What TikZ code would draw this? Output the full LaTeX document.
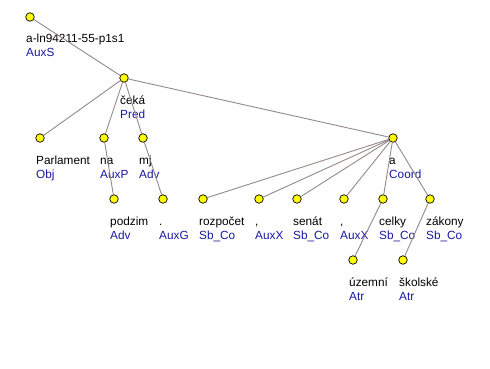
\documentclass[tikz,border=0pt]{standalone}
\usepackage{fontspec}
\setmainfont{Liberation Sans}
\definecolor{edgegray}{RGB}{150,136,136}
\definecolor{funcblue}{RGB}{24,24,160}
\definecolor{nodeyellow}{RGB}{255,255,0}
\begin{document}
\begin{tikzpicture}[x=1pt,y=-1pt]
\tikzset{tnode/.style={circle, draw=black, fill=nodeyellow, inner sep=0pt, minimum size=8.5pt, line width=0.7pt}}
\tikzset{edge/.style={draw=edgegray, line width=0.9pt}}
\tikzset{word/.style={anchor=base west, inner sep=0pt, font=\fontsize{11.8}{13}\selectfont}}
\tikzset{func/.style={word, text=funcblue}}
\useasboundingbox (0,0) rectangle (490,369);

% tree nodes
\node (root) [tnode] at (30,17) {};
\node (ceka) [tnode] at (124,78) {};
\node (parl) [tnode] at (40,138) {};
\node (na) [tnode] at (104,138) {};
\node (mj) [tnode] at (143,138) {};
\node (coord) [tnode] at (393,138) {};
\node (podzim) [tnode] at (114,199) {};
\node (tecka) [tnode] at (163,199) {};
\node (rozp) [tnode] at (203,199) {};
\node (carka1) [tnode] at (259,199) {};
\node (senat) [tnode] at (297,199) {};
\node (carka2) [tnode] at (344,199) {};
\node (celky) [tnode] at (383,199) {};
\node (zakony) [tnode] at (430,199) {};
\node (uzemni) [tnode] at (353,260) {};
\node (skolske) [tnode] at (403,260) {};

% labels
\node (wroot) [word] at (26,43) {a-ln94211-55-p1s1};
\node (froot) [func] at (26,57) {AuxS};
\node (wceka) [word] at (120,104) {čeká};
\node (fceka) [func] at (120,118) {Pred};
\node (wparl) [word] at (36,164) {Parlament};
\node (fparl) [func] at (36,178) {Obj};
\node (wna) [word] at (100,164) {na};
\node (fna) [func] at (100,178) {AuxP};
\node (wmj) [word] at (139,164) {mj};
\node (fmj) [func] at (139,178) {Adv};
\node (wcoord) [word] at (389,164) {a};
\node (fcoord) [func] at (389,178) {Coord};
\node (wpodzim) [word] at (110,225) {podzim};
\node (fpodzim) [func] at (110,239) {Adv};
\node (wtecka) [word] at (159,225) {.};
\node (ftecka) [func] at (159,239) {AuxG};
\node (wrozp) [word] at (199,225) {rozpočet};
\node (frozp) [func] at (199,239) {Sb\_Co};
\node (wcarka1) [word] at (255,225) {,};
\node (fcarka1) [func] at (255,239) {AuxX};
\node (wsenat) [word] at (293,225) {senát};
\node (fsenat) [func] at (293,239) {Sb\_Co};
\node (wcarka2) [word] at (340,225) {,};
\node (fcarka2) [func] at (340,239) {AuxX};
\node (wcelky) [word] at (379,225) {celky};
\node (fcelky) [func] at (379,239) {Sb\_Co};
\node (wzakony) [word] at (426,225) {zákony};
\node (fzakony) [func] at (426,239) {Sb\_Co};
\node (wuzemni) [word] at (349,286) {územní};
\node (fuzemni) [func] at (349,300) {Atr};
\node (wskolske) [word] at (399,286) {školské};
\node (fskolske) [func] at (399,300) {Atr};

% edges
\draw [edge] (root) -- (ceka);
\draw [edge] (ceka) -- (parl);
\draw [edge] (ceka) -- (na);
\draw [edge] (ceka) -- (mj);
\draw [edge] (ceka) -- (coord);
\draw [edge] (na) -- (podzim);
\draw [edge] (mj) -- (tecka);
\draw [edge] (coord) -- (rozp);
\draw [edge] (coord) -- (carka1);
\draw [edge] (coord) -- (senat);
\draw [edge] (coord) -- (carka2);
\draw [edge] (coord) -- (celky);
\draw [edge] (coord) -- (zakony);
\draw [edge] (celky) -- (uzemni);
\draw [edge] (zakony) -- (skolske);

\end{tikzpicture}
\end{document}
